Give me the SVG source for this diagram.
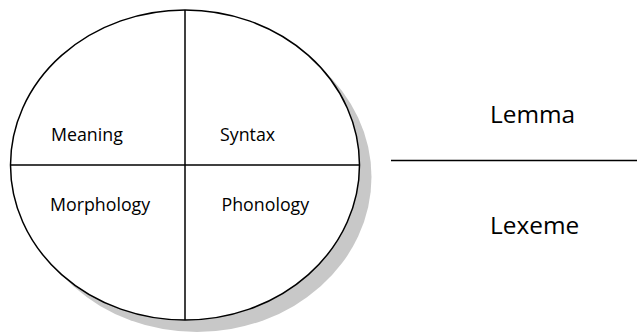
<svg xmlns="http://www.w3.org/2000/svg" width="637" height="335" viewBox="0 0 637 335">
  <style>
    .outline { fill: #ffffff; stroke: #000000; stroke-width: 1.5; }
    .shadow { fill: #c8c8c8; stroke: none; }
    .rule { stroke: #000000; stroke-width: 1.5; fill: none; }
    .label { font-family: "Open Sans", "Liberation Sans", sans-serif; font-size: 17.8px; fill: #000000; }
    .term { font-family: "Open Sans", "Liberation Sans", sans-serif; font-size: 24.4px; fill: #000000; }
  </style>
  <rect width="637" height="335" fill="#ffffff"/>

  <!-- lexical entry: ellipse split into four quadrants -->
  <g id="entry">
    <ellipse class="shadow" cx="197" cy="177" rx="174.5" ry="155"/>
    <ellipse class="outline" cx="185" cy="165" rx="174.5" ry="155"/>
  </g>

  <g id="dividers">
    <line class="rule" x1="185" y1="10" x2="185" y2="320"/>
    <line class="rule" x1="10.5" y1="165" x2="359.5" y2="165"/>
    <line class="rule" x1="391" y1="160.5" x2="637" y2="160.5"/>
  </g>

  <g id="meaning"><text class="label" x="51" y="141">Meaning</text></g>
  <g id="syntax"><text class="label" x="220" y="141">Syntax</text></g>
  <g id="morphology"><text class="label" x="50" y="210.5">Morphology</text></g>
  <g id="phonology"><text class="label" x="221.5" y="210.5">Phonology</text></g>

  <g id="lemma"><text class="term" x="490" y="123">Lemma</text></g>
  <g id="lexeme"><text class="term" x="490" y="234">Lexeme</text></g>
</svg>
